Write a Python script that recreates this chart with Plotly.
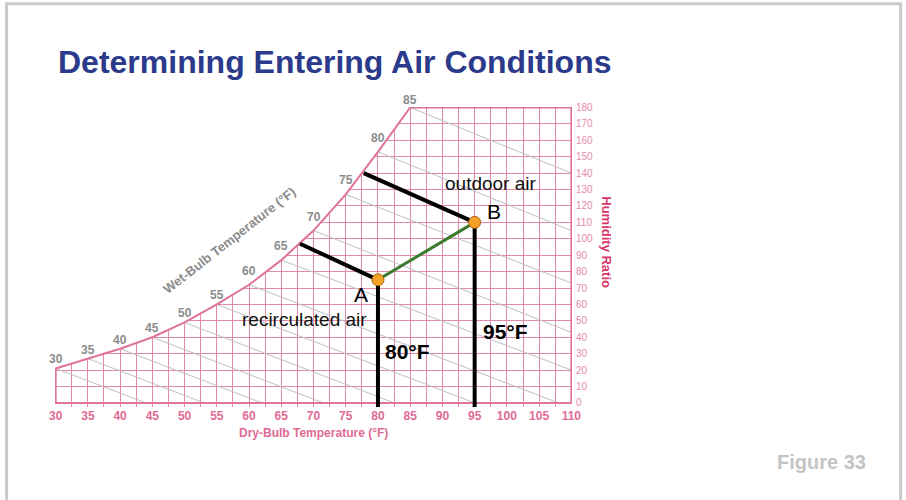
import plotly.graph_objects as go

# saturation curve of the chart (dry bulb °F, humidity ratio)
sat_temp = [30, 35, 40, 45, 50, 55, 60, 65, 70, 75, 80, 85]
sat_ratio = [21, 27, 33, 40, 49, 60, 72, 87, 105, 127, 153, 180]

# wet-bulb lines: they start on the saturation curve and leave the chart here
wb_end_temp = [44, 53, 62, 71.5, 82.5, 95, 108, 110, 110, 110, 110, 110]
wb_end_ratio = [0, 0, 0, 0, 0, 0, 0, 20, 43, 73, 105, 140]

# air states A (recirculated) and B (outdoor)
state_names = ["A", "B"]
state_temp = [80, 95]
state_ratio = [75, 110]
# where the drawn wet-bulb lines of A and B touch the saturation curve
wb_start_temp = [67.9, 77.8]
wb_start_ratio = [97, 140]

dry_bulb_ticks = list(range(30, 115, 5))
humidity_ticks = list(range(0, 190, 10))

FIG_W, FIG_H = 906, 500

# plot area in page pixels
X_RANGE = [29.9, 110.1]
Y_RANGE = [-2.5, 180.3]
PLOT_L, PLOT_T, PLOT_W, PLOT_H = 55.4, 107.2, 517.0, 299.9


def paper_x(px):
    return (px - PLOT_L) / PLOT_W


def paper_y(py):
    return (PLOT_T + PLOT_H - py) / PLOT_H


PINK_GRID = "#e18aa9"
PINK_LINE = "#e0739b"
GRAY = "#8c8c8c"

fig = go.Figure()

# white mask above the saturation curve hides the grid there
fig.add_trace(go.Scatter(
    x=[X_RANGE[0] - 1] + sat_temp + [sat_temp[-1], X_RANGE[0] - 1],
    y=[sat_ratio[0]] + sat_ratio + [200, 200],
    fill="toself", fillcolor="white", line=dict(width=0),
    mode="lines", hoverinfo="skip", showlegend=False))

# wet-bulb lines
wx, wy = [], []
for t0, w0, t1, w1 in zip(sat_temp, sat_ratio, wb_end_temp, wb_end_ratio):
    wx += [t0, t1, None]
    wy += [w0, w1, None]
fig.add_trace(go.Scatter(x=wx, y=wy, mode="lines",
                         line=dict(color="#bdbdcc", width=1),
                         hoverinfo="skip", showlegend=False))

# saturation curve and chart outline
fig.add_trace(go.Scatter(x=sat_temp, y=sat_ratio, mode="lines",
                         line=dict(color=PINK_LINE, width=2),
                         hoverinfo="skip", showlegend=False))
fig.add_trace(go.Scatter(
    x=[dry_bulb_ticks[0], dry_bulb_ticks[0], dry_bulb_ticks[-1], dry_bulb_ticks[-1], sat_temp[-1]],
    y=[sat_ratio[0], humidity_ticks[0], humidity_ticks[0], humidity_ticks[-1], humidity_ticks[-1]],
    mode="lines", line=dict(color=PINK_LINE, width=2),
    hoverinfo="skip", showlegend=False))

# black wet-bulb lines and dry-bulb lines through A and B
for i in range(len(state_names)):
    fig.add_trace(go.Scatter(x=[wb_start_temp[i], state_temp[i]],
                             y=[wb_start_ratio[i], state_ratio[i]],
                             mode="lines", line=dict(color="black", width=4),
                             hoverinfo="skip", showlegend=False))
    fig.add_trace(go.Scatter(x=[state_temp[i], state_temp[i]],
                             y=[state_ratio[i], Y_RANGE[0]],
                             mode="lines", line=dict(color="black", width=4),
                             hoverinfo="skip", showlegend=False))

# mixing line between A and B
fig.add_trace(go.Scatter(x=state_temp, y=state_ratio, mode="lines",
                         line=dict(color="#3a7a2c", width=3),
                         hoverinfo="skip", showlegend=False))
fig.add_trace(go.Scatter(x=state_temp, y=state_ratio, mode="markers",
                         marker=dict(size=12, color="#f6a128",
                                     line=dict(color="#a8650a", width=1)),
                         cliponaxis=False, hoverinfo="skip", showlegend=False))

annotations = []

# wet-bulb temperature labels along the saturation curve
for t, w in zip(sat_temp, sat_ratio):
    shift = 9 if t < 60 else 14
    if t == sat_temp[-1]:
        shift = 7
    annotations.append(dict(x=t, y=w, text=str(t), showarrow=False,
                            xanchor="center", yanchor="middle", yshift=shift,
                            font=dict(family="Liberation Sans", size=12,
                                      color=GRAY, weight="bold")))


def page_text(px, py, text, font, **kw):
    d = dict(x=paper_x(px), y=paper_y(py), xref="paper", yref="paper",
             text=text, showarrow=False, xanchor="center", yanchor="middle",
             font=font)
    d.update(kw)
    return d


narrow = "Liberation Sans Narrow, Liberation Sans"
annotations += [
    page_text(230, 241, "Wet-Bulb Temperature (°F)",
              dict(family="Liberation Sans", size=13, color=GRAY, weight="bold"),
              textangle=-38),
    page_text(314, 433, "Dry-Bulb Temperature (°F)",
              dict(family="Liberation Sans", size=12, color="#e06a94", weight="bold")),
    page_text(607, 242, "Humidity Ratio",
              dict(family="Liberation Sans", size=13, color="#d8356a", weight="bold"),
              textangle=90),
    page_text(491, 184, "outdoor air", dict(family=narrow, size=19, color="#111111")),
    page_text(305, 320, "recirculated air", dict(family=narrow, size=19, color="#111111")),
    page_text(868, 462, "Figure 33",
              dict(family="Liberation Sans", size=20, color="#c4c4c4", weight="bold"),
              xanchor="right"),
    dict(x=state_temp[0], y=state_ratio[0], text=state_names[0], showarrow=False,
         xanchor="center", yanchor="middle", xshift=-17, yshift=-15,
         font=dict(family="Liberation Sans", size=21, color="black")),
    dict(x=state_temp[1], y=state_ratio[1], text=state_names[1], showarrow=False,
         xanchor="center", yanchor="middle", xshift=19, yshift=11,
         font=dict(family="Liberation Sans", size=21, color="black")),
    dict(x=state_temp[0], y=paper_y(352), yref="paper", text="%d°F" % state_temp[0],
         showarrow=False, xanchor="left", yanchor="middle", xshift=5,
         font=dict(family="Liberation Sans", size=21, color="black", weight="bold")),
    dict(x=state_temp[1], y=paper_y(332), yref="paper", text="%d°F" % state_temp[1],
         showarrow=False, xanchor="left", yanchor="middle", xshift=6,
         font=dict(family="Liberation Sans", size=21, color="black", weight="bold")),
]

fig.update_layout(
    template="none",
    width=FIG_W, height=FIG_H,
    margin=dict(l=PLOT_L, t=PLOT_T, r=FIG_W - PLOT_L - PLOT_W,
                b=FIG_H - PLOT_T - PLOT_H, pad=0),
    paper_bgcolor="white", plot_bgcolor="white",
    showlegend=False,
    hovermode=False,
    title=dict(text="<b>Determining Entering Air Conditions</b>",
               xref="container", yref="container",
               x=58 / FIG_W, xanchor="left", y=1 - 62 / FIG_H, yanchor="middle",
               font=dict(family="Liberation Sans", size=32, color="#2b3a8a")),
    annotations=annotations,
    # slide frame
    shapes=[dict(type="rect", xref="paper", yref="paper",
                 x0=paper_x(7), x1=paper_x(901), y0=paper_y(540), y1=paper_y(4),
                 line=dict(color="#c9c9c9", width=3), layer="below")],
)

fig.update_xaxes(
    range=X_RANGE, automargin=False,
    tickvals=dry_bulb_ticks, ticks="", showline=False, zeroline=False,
    showgrid=True, gridcolor=PINK_GRID, gridwidth=1,
    minor=dict(tick0=30, dtick=2.5, showgrid=True, gridcolor=PINK_GRID, gridwidth=1),
    tickfont=dict(family="Liberation Sans", size=12, color="#e06a94", weight="bold"),
    ticklabelstandoff=0,
)
fig.update_yaxes(
    range=Y_RANGE, automargin=False, side="right",
    tickvals=humidity_ticks, ticks="", showline=False, zeroline=False,
    showgrid=True, gridcolor=PINK_GRID, gridwidth=1,
    tickfont=dict(family="Liberation Sans", size=10, color="#e68aa9"),
    ticklabelstandoff=3,
)

# drop the default body margin so the figure fills the window exactly
fig.write_html("out.html",
               config={"displayModeBar": False},
               post_script="document.body.style.margin='0';"
                           "document.body.style.overflow='hidden';")
